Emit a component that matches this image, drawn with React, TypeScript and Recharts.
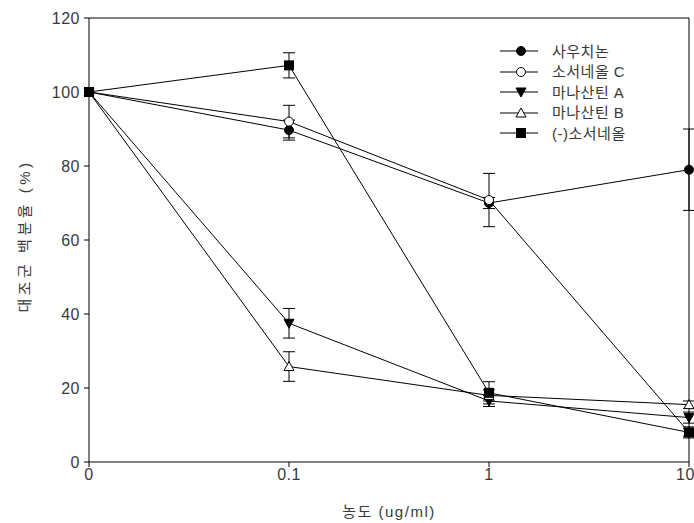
import React from "react";
import {
  LineChart,
  Line,
  XAxis,
  YAxis,
  ErrorBar,
  ReferenceLine,
} from "recharts";

// 농도 카테고리 (등간격 축)
const xLabels = ["0", "0.1", "1", "10"];
const yTicks = [0, 20, 40, 60, 80, 100, 120];

// 각 시료의 대조군 백분율 (%) 과 오차
const sauchinone = [100, 89.7, 70, 79];
const sauchinoneErr = [0, 2.7, 1.5, 11];
const saucerneolC = [100, 92, 70.8, 8];
const saucerneolCErr = [0, 4.4, 7.2, 1];
const manassantinA = [100, 37.5, 16.5, 12];
const manassantinAErr = [0, 4, 1.5, 1.5];
const manassantinB = [100, 25.8, 18, 15.5];
const manassantinBErr = [0, 4, 1.5, 1];
const minusSaucerneol = [100, 107.2, 18.7, 8];
const minusSaucerneolErr = [0, 3.4, 3, 1.5];

const seriesNames = ["사우치논", "소서네올 C", "마나산틴 A", "마나산틴 B", "(-)소서네올"];
const shapes = ["circle", "openCircle", "triDown", "openTriUp", "square"];

const data = xLabels.map((_, i) => ({
  x: i,
  s0: sauchinone[i],
  e0: sauchinoneErr[i],
  s1: saucerneolC[i],
  e1: saucerneolCErr[i],
  s2: manassantinA[i],
  e2: manassantinAErr[i],
  s3: manassantinB[i],
  e3: manassantinBErr[i],
  s4: minusSaucerneol[i],
  e4: minusSaucerneolErr[i],
}));

const FONT = "'Liberation Sans', 'Noto Sans CJK KR', sans-serif";
const TEXT = "#3a3a3a";

const Marker = ({ cx, cy, shape }: { cx: number; cy: number; shape: string }) => {
  switch (shape) {
    case "circle":
      return <circle cx={cx} cy={cy} r={4.5} fill="#000" stroke="#000" />;
    case "openCircle":
      return <circle cx={cx} cy={cy} r={4.5} fill="#fff" stroke="#000" strokeWidth={1} />;
    case "triDown":
      return (
        <polygon
          points={`${cx - 5},${cy - 4} ${cx + 5},${cy - 4} ${cx},${cy + 5}`}
          fill="#000"
          stroke="#000"
        />
      );
    case "openTriUp":
      return (
        <polygon
          points={`${cx - 5},${cy + 4} ${cx + 5},${cy + 4} ${cx},${cy - 5}`}
          fill="#fff"
          stroke="#000"
        />
      );
    default:
      return <rect x={cx - 5} y={cy - 5} width={10} height={10} fill="#000" />;
  }
};

// 범례: 그래프 영역 안 오른쪽 위에 겹쳐서 표시
const LegendBox = () => (
  <div
    style={{
      position: "absolute",
      left: 498,
      top: 41,
      fontFamily: FONT,
      fontSize: 15,
      color: TEXT,
      lineHeight: 1,
    }}
  >
    {seriesNames.map((name, i) => (
      <div key={name} style={{ display: "flex", alignItems: "center", height: 20.5 }}>
        <svg width={46} height={14}>
          <line x1={2} y1={7} x2={40} y2={7} stroke="#000" />
          <Marker cx={23} cy={7} shape={shapes[i]} />
        </svg>
        <span style={{ marginLeft: 8, letterSpacing: 0.5 }}>{name}</span>
      </div>
    ))}
  </div>
);

const tickStyle = { fill: TEXT, fontSize: 16, fontFamily: FONT, letterSpacing: 0.5 };

export default function App() {
  return (
    <div style={{ position: "absolute", left: 0, top: 0, width: 694, height: 523 }}>
      <LineChart
        width={694}
        height={523}
        data={data}
        margin={{ top: 18, right: 5, left: 0, bottom: 31 }}
      >
        <XAxis
          dataKey="x"
          type="number"
          domain={[0, 3]}
          ticks={[0, 1, 2, 3]}
          tickFormatter={(v: number) => xLabels[v]}
          stroke="#000"
          tick={tickStyle}
          tickSize={5}
          tickMargin={2}
          height={30}
          label={{
            content: ({ viewBox }: any) => (
              <text
                x={viewBox.x + viewBox.width / 2}
                y={517}
                textAnchor="middle"
                fill={TEXT}
                fontSize={15}
                letterSpacing={1.5}
                fontFamily={FONT}
              >
                농도 (ug/ml)
              </text>
            ),
          }}
        />
        <YAxis
          type="number"
          domain={[0, 120]}
          ticks={yTicks}
          stroke="#000"
          tick={tickStyle}
          tickSize={5}
          tickMargin={4}
          width={89}
          label={{
            content: ({ viewBox }: any) => (
              <text
                x={24}
                y={236}
                transform="rotate(-90, 24, 236)"
                textAnchor="middle"
                dominantBaseline="central"
                fill={TEXT}
                fontSize={15}
                letterSpacing={3.5}
                fontFamily={FONT}
              >
                대조군 백분율 (%)
              </text>
            ),
          }}
        />
        <ReferenceLine y={120} stroke="#000" />
        <ReferenceLine x={3} stroke="#000" />
        {seriesNames.map((name, i) => (
          <Line
            key={name}
            name={name}
            dataKey={`s${i}`}
            stroke="#000"
            strokeWidth={1}
            isAnimationActive={false}
            dot={(p: any) => (
              <Marker key={`m${i}-${p.index}`} cx={p.cx} cy={p.cy} shape={shapes[i]} />
            )}
          >
            <ErrorBar
              dataKey={`e${i}`}
              direction="y"
              width={6}
              stroke="#000"
              strokeWidth={1}
              isAnimationActive={false}
            />
          </Line>
        ))}
      </LineChart>
      <LegendBox />
    </div>
  );
}
